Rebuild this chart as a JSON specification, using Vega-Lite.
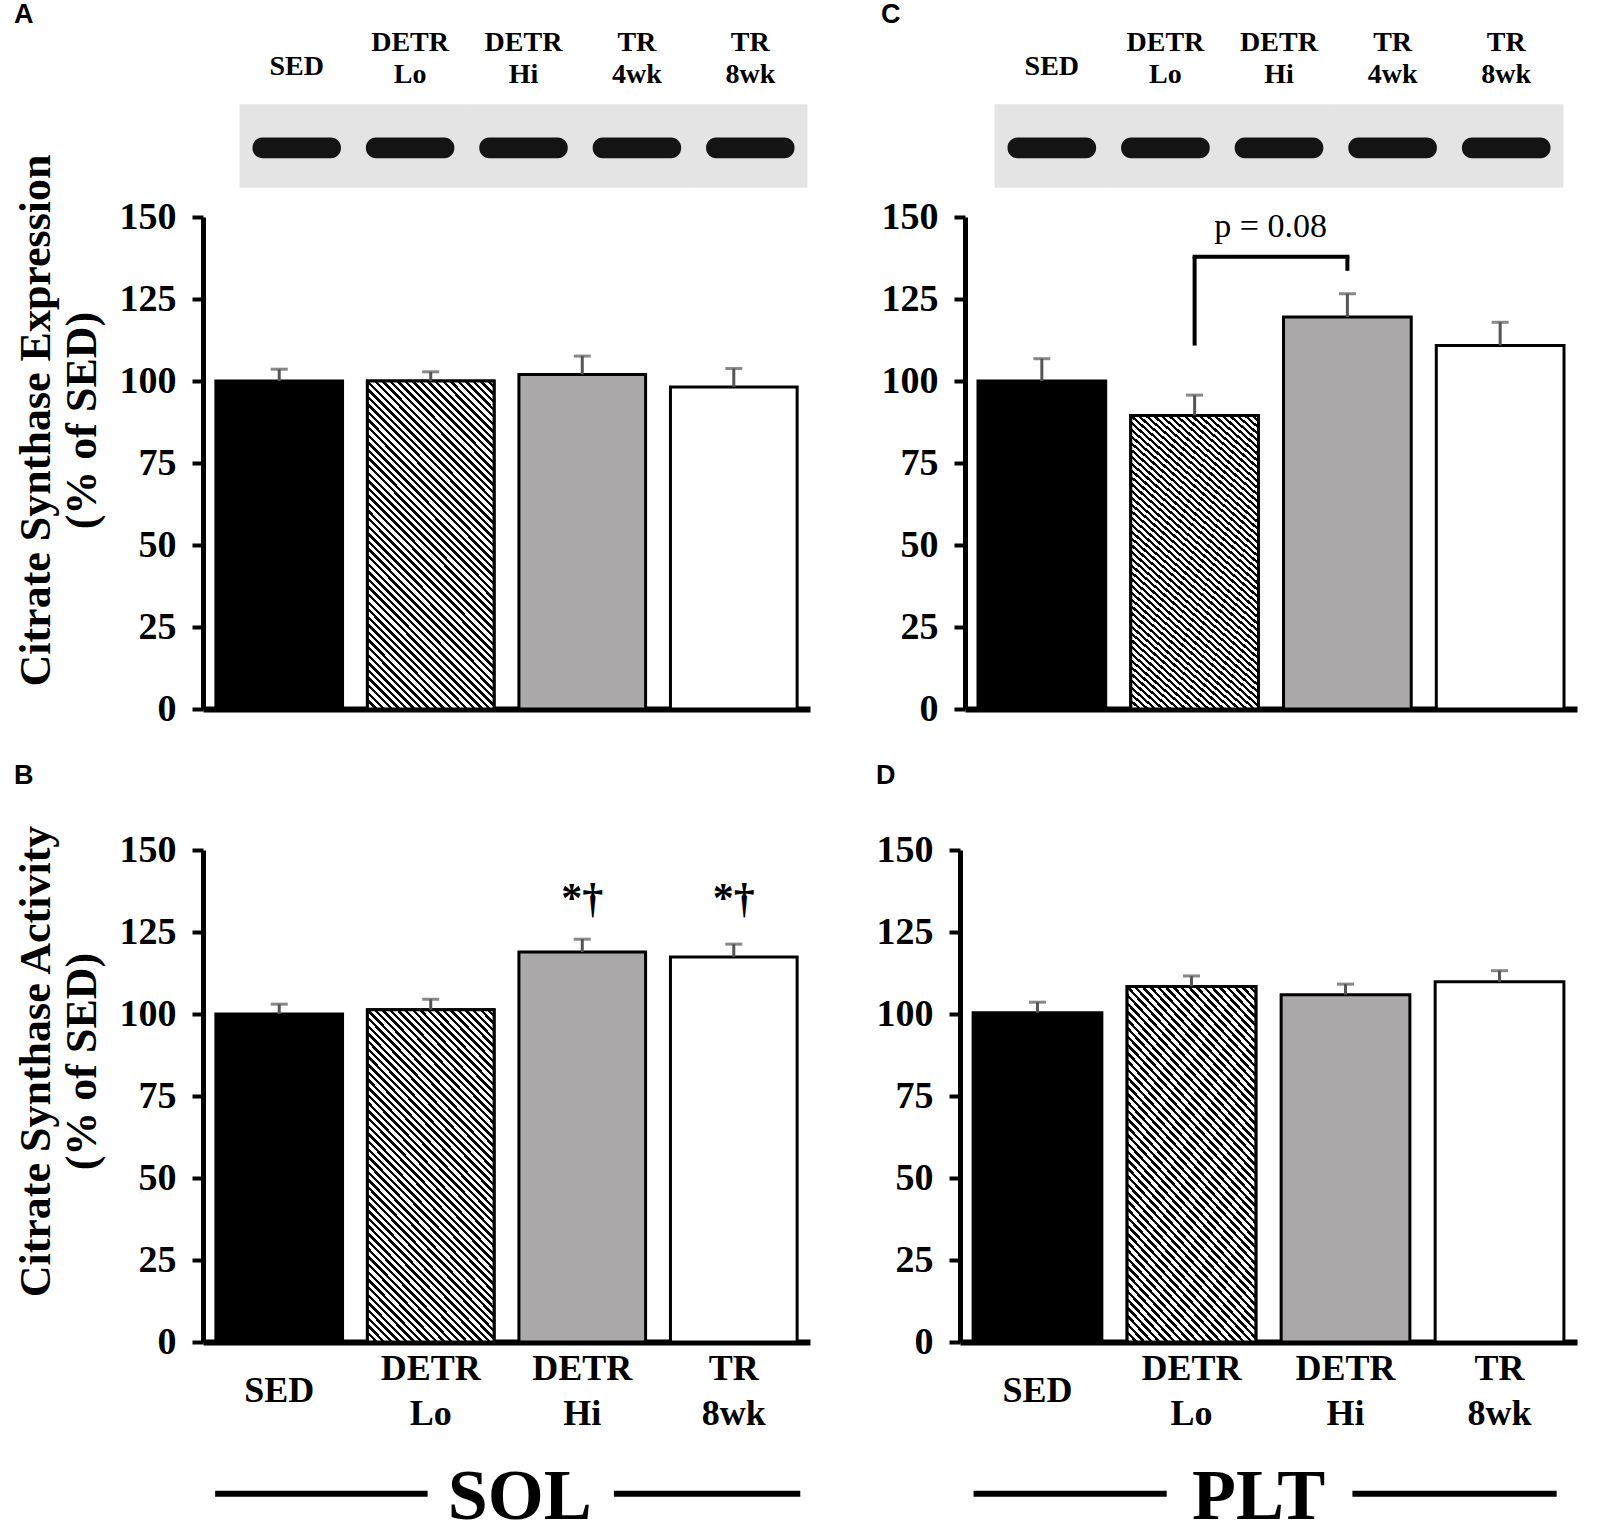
{
  "$schema": "https://vega.github.io/schema/vega-lite/v6.json",
  "background": "white",
  "padding": {"left": 13, "top": 1, "right": 5, "bottom": 5},
  "params": [
    {
      "name": "hatch",
      "value": {
        "gradient": "linear", "x1": 0, "y1": 1, "x2": 0.468, "y2": -0.206,
        "stops": [
          {"offset":0,"color":"#000"},{"offset":0.0075,"color":"#000"},{"offset":0.0075,"color":"#fff"},{"offset":0.0167,"color":"#fff"},
          {"offset":0.0167,"color":"#000"},{"offset":0.0242,"color":"#000"},{"offset":0.0242,"color":"#fff"},{"offset":0.0333,"color":"#fff"},
          {"offset":0.0333,"color":"#000"},{"offset":0.0408,"color":"#000"},{"offset":0.0408,"color":"#fff"},{"offset":0.05,"color":"#fff"},
          {"offset":0.05,"color":"#000"},{"offset":0.0575,"color":"#000"},{"offset":0.0575,"color":"#fff"},{"offset":0.0667,"color":"#fff"},
          {"offset":0.0667,"color":"#000"},{"offset":0.0742,"color":"#000"},{"offset":0.0742,"color":"#fff"},{"offset":0.0833,"color":"#fff"},
          {"offset":0.0833,"color":"#000"},{"offset":0.0908,"color":"#000"},{"offset":0.0908,"color":"#fff"},{"offset":0.1,"color":"#fff"},
          {"offset":0.1,"color":"#000"},{"offset":0.1075,"color":"#000"},{"offset":0.1075,"color":"#fff"},{"offset":0.1167,"color":"#fff"},
          {"offset":0.1167,"color":"#000"},{"offset":0.1242,"color":"#000"},{"offset":0.1242,"color":"#fff"},{"offset":0.1333,"color":"#fff"},
          {"offset":0.1333,"color":"#000"},{"offset":0.1408,"color":"#000"},{"offset":0.1408,"color":"#fff"},{"offset":0.15,"color":"#fff"},
          {"offset":0.15,"color":"#000"},{"offset":0.1575,"color":"#000"},{"offset":0.1575,"color":"#fff"},{"offset":0.1667,"color":"#fff"},
          {"offset":0.1667,"color":"#000"},{"offset":0.1742,"color":"#000"},{"offset":0.1742,"color":"#fff"},{"offset":0.1833,"color":"#fff"},
          {"offset":0.1833,"color":"#000"},{"offset":0.1908,"color":"#000"},{"offset":0.1908,"color":"#fff"},{"offset":0.2,"color":"#fff"},
          {"offset":0.2,"color":"#000"},{"offset":0.2075,"color":"#000"},{"offset":0.2075,"color":"#fff"},{"offset":0.2167,"color":"#fff"},
          {"offset":0.2167,"color":"#000"},{"offset":0.2242,"color":"#000"},{"offset":0.2242,"color":"#fff"},{"offset":0.2333,"color":"#fff"},
          {"offset":0.2333,"color":"#000"},{"offset":0.2408,"color":"#000"},{"offset":0.2408,"color":"#fff"},{"offset":0.25,"color":"#fff"},
          {"offset":0.25,"color":"#000"},{"offset":0.2575,"color":"#000"},{"offset":0.2575,"color":"#fff"},{"offset":0.2667,"color":"#fff"},
          {"offset":0.2667,"color":"#000"},{"offset":0.2742,"color":"#000"},{"offset":0.2742,"color":"#fff"},{"offset":0.2833,"color":"#fff"},
          {"offset":0.2833,"color":"#000"},{"offset":0.2908,"color":"#000"},{"offset":0.2908,"color":"#fff"},{"offset":0.3,"color":"#fff"},
          {"offset":0.3,"color":"#000"},{"offset":0.3075,"color":"#000"},{"offset":0.3075,"color":"#fff"},{"offset":0.3167,"color":"#fff"},
          {"offset":0.3167,"color":"#000"},{"offset":0.3242,"color":"#000"},{"offset":0.3242,"color":"#fff"},{"offset":0.3333,"color":"#fff"},
          {"offset":0.3333,"color":"#000"},{"offset":0.3408,"color":"#000"},{"offset":0.3408,"color":"#fff"},{"offset":0.35,"color":"#fff"},
          {"offset":0.35,"color":"#000"},{"offset":0.3575,"color":"#000"},{"offset":0.3575,"color":"#fff"},{"offset":0.3667,"color":"#fff"},
          {"offset":0.3667,"color":"#000"},{"offset":0.3742,"color":"#000"},{"offset":0.3742,"color":"#fff"},{"offset":0.3833,"color":"#fff"},
          {"offset":0.3833,"color":"#000"},{"offset":0.3908,"color":"#000"},{"offset":0.3908,"color":"#fff"},{"offset":0.4,"color":"#fff"},
          {"offset":0.4,"color":"#000"},{"offset":0.4075,"color":"#000"},{"offset":0.4075,"color":"#fff"},{"offset":0.4167,"color":"#fff"},
          {"offset":0.4167,"color":"#000"},{"offset":0.4242,"color":"#000"},{"offset":0.4242,"color":"#fff"},{"offset":0.4333,"color":"#fff"},
          {"offset":0.4333,"color":"#000"},{"offset":0.4408,"color":"#000"},{"offset":0.4408,"color":"#fff"},{"offset":0.45,"color":"#fff"},
          {"offset":0.45,"color":"#000"},{"offset":0.4575,"color":"#000"},{"offset":0.4575,"color":"#fff"},{"offset":0.4667,"color":"#fff"},
          {"offset":0.4667,"color":"#000"},{"offset":0.4742,"color":"#000"},{"offset":0.4742,"color":"#fff"},{"offset":0.4833,"color":"#fff"},
          {"offset":0.4833,"color":"#000"},{"offset":0.4908,"color":"#000"},{"offset":0.4908,"color":"#fff"},{"offset":0.5,"color":"#fff"},
          {"offset":0.5,"color":"#000"},{"offset":0.5075,"color":"#000"},{"offset":0.5075,"color":"#fff"},{"offset":0.5167,"color":"#fff"},
          {"offset":0.5167,"color":"#000"},{"offset":0.5242,"color":"#000"},{"offset":0.5242,"color":"#fff"},{"offset":0.5333,"color":"#fff"},
          {"offset":0.5333,"color":"#000"},{"offset":0.5408,"color":"#000"},{"offset":0.5408,"color":"#fff"},{"offset":0.55,"color":"#fff"},
          {"offset":0.55,"color":"#000"},{"offset":0.5575,"color":"#000"},{"offset":0.5575,"color":"#fff"},{"offset":0.5667,"color":"#fff"},
          {"offset":0.5667,"color":"#000"},{"offset":0.5742,"color":"#000"},{"offset":0.5742,"color":"#fff"},{"offset":0.5833,"color":"#fff"},
          {"offset":0.5833,"color":"#000"},{"offset":0.5908,"color":"#000"},{"offset":0.5908,"color":"#fff"},{"offset":0.6,"color":"#fff"},
          {"offset":0.6,"color":"#000"},{"offset":0.6075,"color":"#000"},{"offset":0.6075,"color":"#fff"},{"offset":0.6167,"color":"#fff"},
          {"offset":0.6167,"color":"#000"},{"offset":0.6242,"color":"#000"},{"offset":0.6242,"color":"#fff"},{"offset":0.6333,"color":"#fff"},
          {"offset":0.6333,"color":"#000"},{"offset":0.6408,"color":"#000"},{"offset":0.6408,"color":"#fff"},{"offset":0.65,"color":"#fff"},
          {"offset":0.65,"color":"#000"},{"offset":0.6575,"color":"#000"},{"offset":0.6575,"color":"#fff"},{"offset":0.6667,"color":"#fff"},
          {"offset":0.6667,"color":"#000"},{"offset":0.6742,"color":"#000"},{"offset":0.6742,"color":"#fff"},{"offset":0.6833,"color":"#fff"},
          {"offset":0.6833,"color":"#000"},{"offset":0.6908,"color":"#000"},{"offset":0.6908,"color":"#fff"},{"offset":0.7,"color":"#fff"},
          {"offset":0.7,"color":"#000"},{"offset":0.7075,"color":"#000"},{"offset":0.7075,"color":"#fff"},{"offset":0.7167,"color":"#fff"},
          {"offset":0.7167,"color":"#000"},{"offset":0.7242,"color":"#000"},{"offset":0.7242,"color":"#fff"},{"offset":0.7333,"color":"#fff"},
          {"offset":0.7333,"color":"#000"},{"offset":0.7408,"color":"#000"},{"offset":0.7408,"color":"#fff"},{"offset":0.75,"color":"#fff"},
          {"offset":0.75,"color":"#000"},{"offset":0.7575,"color":"#000"},{"offset":0.7575,"color":"#fff"},{"offset":0.7667,"color":"#fff"},
          {"offset":0.7667,"color":"#000"},{"offset":0.7742,"color":"#000"},{"offset":0.7742,"color":"#fff"},{"offset":0.7833,"color":"#fff"},
          {"offset":0.7833,"color":"#000"},{"offset":0.7908,"color":"#000"},{"offset":0.7908,"color":"#fff"},{"offset":0.8,"color":"#fff"},
          {"offset":0.8,"color":"#000"},{"offset":0.8075,"color":"#000"},{"offset":0.8075,"color":"#fff"},{"offset":0.8167,"color":"#fff"},
          {"offset":0.8167,"color":"#000"},{"offset":0.8242,"color":"#000"},{"offset":0.8242,"color":"#fff"},{"offset":0.8333,"color":"#fff"},
          {"offset":0.8333,"color":"#000"},{"offset":0.8408,"color":"#000"},{"offset":0.8408,"color":"#fff"},{"offset":0.85,"color":"#fff"},
          {"offset":0.85,"color":"#000"},{"offset":0.8575,"color":"#000"},{"offset":0.8575,"color":"#fff"},{"offset":0.8667,"color":"#fff"},
          {"offset":0.8667,"color":"#000"},{"offset":0.8742,"color":"#000"},{"offset":0.8742,"color":"#fff"},{"offset":0.8833,"color":"#fff"},
          {"offset":0.8833,"color":"#000"},{"offset":0.8908,"color":"#000"},{"offset":0.8908,"color":"#fff"},{"offset":0.9,"color":"#fff"},
          {"offset":0.9,"color":"#000"},{"offset":0.9075,"color":"#000"},{"offset":0.9075,"color":"#fff"},{"offset":0.9167,"color":"#fff"},
          {"offset":0.9167,"color":"#000"},{"offset":0.9242,"color":"#000"},{"offset":0.9242,"color":"#fff"},{"offset":0.9333,"color":"#fff"},
          {"offset":0.9333,"color":"#000"},{"offset":0.9408,"color":"#000"},{"offset":0.9408,"color":"#fff"},{"offset":0.95,"color":"#fff"},
          {"offset":0.95,"color":"#000"},{"offset":0.9575,"color":"#000"},{"offset":0.9575,"color":"#fff"},{"offset":0.9667,"color":"#fff"},
          {"offset":0.9667,"color":"#000"},{"offset":0.9742,"color":"#000"},{"offset":0.9742,"color":"#fff"},{"offset":0.9833,"color":"#fff"},
          {"offset":0.9833,"color":"#000"},{"offset":0.9908,"color":"#000"},{"offset":0.9908,"color":"#fff"},{"offset":1,"color":"#fff"}
        ]
      }
    }
  ],
  "datasets": {
    "lanes": [
      {"lane": "SED"}, {"lane": "DETR Lo"}, {"lane": "DETR Hi"}, {"lane": "TR 4wk"}, {"lane": "TR 8wk"}
    ],
    "expr_sol": [
      {"group": "SED", "mean": 100, "upper": 103.6},
      {"group": "DETR Lo", "mean": 100, "upper": 102.8},
      {"group": "DETR Hi", "mean": 102, "upper": 107.6},
      {"group": "TR 8wk", "mean": 98.2, "upper": 103.8}
    ],
    "expr_plt": [
      {"group": "SED", "mean": 100, "upper": 106.8},
      {"group": "DETR Lo", "mean": 89.5, "upper": 95.7},
      {"group": "DETR Hi", "mean": 119.5, "upper": 126.6},
      {"group": "TR 8wk", "mean": 110.8, "upper": 117.9}
    ],
    "act_sol": [
      {"group": "SED", "mean": 100, "upper": 103, "sig": ""},
      {"group": "DETR Lo", "mean": 101.3, "upper": 104.5, "sig": ""},
      {"group": "DETR Hi", "mean": 118.9, "upper": 122.8, "sig": "*†"},
      {"group": "TR 8wk", "mean": 117.4, "upper": 121.3, "sig": "*†"}
    ],
    "act_plt": [
      {"group": "SED", "mean": 100.4, "upper": 103.6},
      {"group": "DETR Lo", "mean": 108.4, "upper": 111.6},
      {"group": "DETR Hi", "mean": 105.9, "upper": 109.1},
      {"group": "TR 8wk", "mean": 109.8, "upper": 113.2}
    ],
    "bracket": [
      {"from": "DETR Lo", "to": "DETR Hi", "label": "p = 0.08"}
    ]
  },
  "spacing": 33,
  "vconcat": [
    {
      "spacing": 71,
      "hconcat": [
        {
          "width": 607, "height": 492,
          "title": {"text": "A", "offset": 0},
          "resolve": {"scale": {"x": "independent"}},
          "layer": [
            {
              "data": {"name": "expr_sol"},
              "encoding": {
                "x": {"field": "group", "type": "nominal", "title": null,
                      "scale": {"domain": ["SED", "DETR Lo", "DETR Hi", "TR 8wk"], "paddingInner": 0.164, "paddingOuter": 0.085},
                      "axis": {"labels": false}},
                "y": {"field": "mean", "type": "quantitative",
                      "scale": {"domain": [0, 150], "nice": false},
                      "axis": {"values": [0, 25, 50, 75, 100, 125, 150], "title": ["Citrate Synthase Expression", "(% of SED)"], "titleY": 203, "titleFontWeight": "bold"}}
              },
              "layer": [
                {"mark": {"type": "bar", "stroke": "#000", "strokeWidth": 3},
                 "encoding": {"fill": {"field": "group", "type": "nominal", "legend": null,
                   "scale": {"domain": ["SED", "DETR Lo", "DETR Hi", "TR 8wk"], "range": ["#000", "#fff", "#aaa8a8", "#fff"]}}}},
                {"transform": [{"filter": "datum.group === 'DETR Lo'"}],
                 "mark": {"type": "bar", "fill": {"expr": "hatch"}, "stroke": "#000", "strokeWidth": 3}},
                {"mark": {"type": "rule", "stroke": "#555", "strokeWidth": 3}, "encoding": {"y2": {"field": "upper"}}},
                {"mark": {"type": "tick", "color": "#555", "thickness": 3, "size": 17},
                 "encoding": {"y": {"field": "upper", "type": "quantitative"}}}
              ]
            },
            {
              "data": {"name": "lanes"},
              "encoding": {"x": {"field": "lane", "type": "nominal", "sort": null, "axis": null,
                                 "scale": {"paddingInner": 0, "paddingOuter": 0, "range": [37, 604]}}},
              "layer": [
                {"mark": {"type": "bar", "fill": "#e4e4e4", "stroke": "#e4e4e4", "strokeWidth": 1},
                 "encoding": {"y": {"datum": 159.1, "type": "quantitative"}, "y2": {"datum": 184.2}}},
                {"mark": {"type": "bar", "fill": "#141414", "cornerRadius": 10, "width": {"band": 0.78}},
                 "encoding": {"y": {"datum": 167.9, "type": "quantitative"}, "y2": {"datum": 174.2}}},
                {"transform": [{"filter": "indexof(datum.lane, ' ') > 0"}],
                 "mark": {"type": "text", "lineBreak": " ", "fontSize": 28, "fontWeight": "bold", "lineHeight": 32},
                 "encoding": {"y": {"datum": 202.9, "type": "quantitative"}, "text": {"field": "lane"}}},
                {"transform": [{"filter": "indexof(datum.lane, ' ') < 0"}],
                 "mark": {"type": "text", "fontSize": 28, "fontWeight": "bold"},
                 "encoding": {"y": {"datum": 195.8, "type": "quantitative"}, "text": {"field": "lane"}}}
              ]
            }
          ]
        },
        {
          "width": 612, "height": 492,
          "title": {"text": "C", "offset": 0},
          "resolve": {"scale": {"x": "independent"}},
          "layer": [
            {
              "data": {"name": "expr_plt"},
              "encoding": {
                "x": {"field": "group", "type": "nominal", "title": null,
                      "scale": {"domain": ["SED", "DETR Lo", "DETR Hi", "TR 8wk"], "paddingInner": 0.164, "paddingOuter": 0.085},
                      "axis": {"labels": false}},
                "y": {"field": "mean", "type": "quantitative",
                      "scale": {"domain": [0, 150], "nice": false},
                      "axis": {"values": [0, 25, 50, 75, 100, 125, 150], "title": null}}
              },
              "layer": [
                {"mark": {"type": "bar", "stroke": "#000", "strokeWidth": 3},
                 "encoding": {"fill": {"field": "group", "type": "nominal", "legend": null,
                   "scale": {"domain": ["SED", "DETR Lo", "DETR Hi", "TR 8wk"], "range": ["#000", "#fff", "#aaa8a8", "#fff"]}}}},
                {"transform": [{"filter": "datum.group === 'DETR Lo'"}],
                 "mark": {"type": "bar", "fill": {"expr": "hatch"}, "stroke": "#000", "strokeWidth": 3}},
                {"mark": {"type": "rule", "stroke": "#555", "strokeWidth": 3}, "encoding": {"y2": {"field": "upper"}}},
                {"mark": {"type": "tick", "color": "#555", "thickness": 3, "size": 17},
                 "encoding": {"y": {"field": "upper", "type": "quantitative"}}}
              ]
            },
            {
              "data": {"name": "bracket"},
              "layer": [
                {"mark": {"type": "rule", "stroke": "#000", "strokeWidth": 4},
                 "encoding": {"x": {"field": "from", "type": "nominal", "axis": null,
                                    "scale": {"domain": ["SED", "DETR Lo", "DETR Hi", "TR 8wk"], "paddingInner": 0.164, "paddingOuter": 0.085}},
                              "y": {"datum": 110.8, "type": "quantitative"}, "y2": {"datum": 137.9}}},
                {"mark": {"type": "rule", "stroke": "#000", "strokeWidth": 4, "strokeCap": "square"},
                 "encoding": {"x": {"field": "from", "type": "nominal", "axis": null}, "x2": {"field": "to"}, "y": {"datum": 137.9, "type": "quantitative"}}},
                {"mark": {"type": "rule", "stroke": "#000", "strokeWidth": 4},
                 "encoding": {"x": {"field": "to", "type": "nominal", "axis": null}, "y": {"datum": 133.6, "type": "quantitative"}, "y2": {"datum": 137.9}}},
                {"mark": {"type": "text", "fontSize": 34, "dx": 76},
                 "encoding": {"x": {"field": "from", "type": "nominal", "axis": null}, "y": {"datum": 147, "type": "quantitative"}, "text": {"field": "label"}}}
              ]
            },
            {
              "data": {"name": "lanes"},
              "encoding": {"x": {"field": "lane", "type": "nominal", "sort": null, "axis": null,
                                 "scale": {"paddingInner": 0, "paddingOuter": 0, "range": [30, 598]}}},
              "layer": [
                {"mark": {"type": "bar", "fill": "#e4e4e4", "stroke": "#e4e4e4", "strokeWidth": 1},
                 "encoding": {"y": {"datum": 159.1, "type": "quantitative"}, "y2": {"datum": 184.2}}},
                {"mark": {"type": "bar", "fill": "#141414", "cornerRadius": 10, "width": {"band": 0.78}},
                 "encoding": {"y": {"datum": 167.9, "type": "quantitative"}, "y2": {"datum": 174.2}}},
                {"transform": [{"filter": "indexof(datum.lane, ' ') > 0"}],
                 "mark": {"type": "text", "lineBreak": " ", "fontSize": 28, "fontWeight": "bold", "lineHeight": 32},
                 "encoding": {"y": {"datum": 202.9, "type": "quantitative"}, "text": {"field": "lane"}}},
                {"transform": [{"filter": "indexof(datum.lane, ' ') < 0"}],
                 "mark": {"type": "text", "fontSize": 28, "fontWeight": "bold"},
                 "encoding": {"y": {"datum": 195.8, "type": "quantitative"}, "text": {"field": "lane"}}}
              ]
            }
          ]
        }
      ]
    },
    {
      "spacing": 66,
      "hconcat": [
        {
          "width": 607, "height": 492,
          "title": {"text": "B", "offset": 34},
          "resolve": {"scale": {"x": "independent"}},
          "layer": [
            {
              "data": {"name": "act_sol"},
              "encoding": {
                "x": {"field": "group", "type": "nominal", "title": null,
                      "scale": {"domain": ["SED", "DETR Lo", "DETR Hi", "TR 8wk"], "paddingInner": 0.164, "paddingOuter": 0.085},
                      "axis": {"labelExpr": "split(datum.label, ' ')", "labelFontSize": 36, "labelBaseline": "middle", "labelLineHeight": 45,
                               "labelPadding": {"condition": {"test": "datum.label === 'SED'", "value": 48}, "value": 26}, "labelAngle": 0}},
                "y": {"field": "mean", "type": "quantitative",
                      "scale": {"domain": [0, 150], "nice": false},
                      "axis": {"values": [0, 25, 50, 75, 100, 125, 150], "title": ["Citrate Synthase Activity", "(% of SED)"], "titleY": 211, "titleFontWeight": "bold"}}
              },
              "layer": [
                {"mark": {"type": "bar", "stroke": "#000", "strokeWidth": 3},
                 "encoding": {"fill": {"field": "group", "type": "nominal", "legend": null,
                   "scale": {"domain": ["SED", "DETR Lo", "DETR Hi", "TR 8wk"], "range": ["#000", "#fff", "#aaa8a8", "#fff"]}}}},
                {"transform": [{"filter": "datum.group === 'DETR Lo'"}],
                 "mark": {"type": "bar", "fill": {"expr": "hatch"}, "stroke": "#000", "strokeWidth": 3}},
                {"mark": {"type": "rule", "stroke": "#555", "strokeWidth": 3}, "encoding": {"y2": {"field": "upper"}}},
                {"mark": {"type": "tick", "color": "#555", "thickness": 3, "size": 17},
                 "encoding": {"y": {"field": "upper", "type": "quantitative"}}},
                {"mark": {"type": "text", "fontSize": 42, "fontWeight": "bold"},
                 "encoding": {"y": {"datum": 135, "type": "quantitative"}, "text": {"field": "sig"}}}
              ]
            },
            {
              "data": {"values": [{"muscle": "SOL"}]},
              "layer": [
                {"mark": {"type": "rule", "stroke": "#000", "strokeWidth": 6},
                 "encoding": {"x": {"datum": 0.02, "type": "quantitative", "scale": {"domain": [0, 1]}, "axis": null}, "x2": {"datum": 0.37}, "y": {"datum": -46.3, "type": "quantitative"}}},
                {"mark": {"type": "rule", "stroke": "#000", "strokeWidth": 6},
                 "encoding": {"x": {"datum": 0.677, "type": "quantitative", "axis": null}, "x2": {"datum": 0.984}, "y": {"datum": -46.3, "type": "quantitative"}}},
                {"mark": {"type": "text", "fontSize": 72, "fontWeight": "bold"},
                 "encoding": {"x": {"datum": 0.522, "type": "quantitative", "axis": null}, "y": {"datum": -47.3, "type": "quantitative"}, "text": {"field": "muscle"}}}
              ]
            }
          ]
        },
        {
          "width": 617, "height": 492,
          "title": {"text": "D", "offset": 41},
          "resolve": {"scale": {"x": "independent"}},
          "layer": [
            {
              "data": {"name": "act_plt"},
              "encoding": {
                "x": {"field": "group", "type": "nominal", "title": null,
                      "scale": {"domain": ["SED", "DETR Lo", "DETR Hi", "TR 8wk"], "paddingInner": 0.164, "paddingOuter": 0.085},
                      "axis": {"labelExpr": "split(datum.label, ' ')", "labelFontSize": 36, "labelBaseline": "middle", "labelLineHeight": 45,
                               "labelPadding": {"condition": {"test": "datum.label === 'SED'", "value": 48}, "value": 26}, "labelAngle": 0}},
                "y": {"field": "mean", "type": "quantitative",
                      "scale": {"domain": [0, 150], "nice": false},
                      "axis": {"values": [0, 25, 50, 75, 100, 125, 150], "title": null}}
              },
              "layer": [
                {"mark": {"type": "bar", "stroke": "#000", "strokeWidth": 3},
                 "encoding": {"fill": {"field": "group", "type": "nominal", "legend": null,
                   "scale": {"domain": ["SED", "DETR Lo", "DETR Hi", "TR 8wk"], "range": ["#000", "#fff", "#aaa8a8", "#fff"]}}}},
                {"transform": [{"filter": "datum.group === 'DETR Lo'"}],
                 "mark": {"type": "bar", "fill": {"expr": "hatch"}, "stroke": "#000", "strokeWidth": 3}},
                {"mark": {"type": "rule", "stroke": "#555", "strokeWidth": 3}, "encoding": {"y2": {"field": "upper"}}},
                {"mark": {"type": "tick", "color": "#555", "thickness": 3, "size": 17},
                 "encoding": {"y": {"field": "upper", "type": "quantitative"}}}
              ]
            },
            {
              "data": {"values": [{"muscle": "PLT"}]},
              "layer": [
                {"mark": {"type": "rule", "stroke": "#000", "strokeWidth": 6},
                 "encoding": {"x": {"datum": 0.022, "type": "quantitative", "scale": {"domain": [0, 1]}, "axis": null}, "x2": {"datum": 0.335}, "y": {"datum": -46.3, "type": "quantitative"}}},
                {"mark": {"type": "rule", "stroke": "#000", "strokeWidth": 6},
                 "encoding": {"x": {"datum": 0.636, "type": "quantitative", "axis": null}, "x2": {"datum": 0.967}, "y": {"datum": -46.3, "type": "quantitative"}}},
                {"mark": {"type": "text", "fontSize": 72, "fontWeight": "bold"},
                 "encoding": {"x": {"datum": 0.484, "type": "quantitative", "axis": null}, "y": {"datum": -47.3, "type": "quantitative"}, "text": {"field": "muscle"}}}
              ]
            }
          ]
        }
      ]
    }
  ],
  "config": {
    "view": {"stroke": null},
    "font": "Liberation Serif",
    "axis": {
      "grid": false, "domainColor": "#000", "tickColor": "#000", "labelColor": "#000", "titleColor": "#000",
      "labelFont": "Liberation Serif", "titleFont": "Liberation Serif", "labelFontWeight": "bold", "titleFontWeight": "bold",
      "labelFlush": false, "labelOverlap": false, "labelBound": false
    },
    "axisY": {"labelFontSize": 38, "labelPadding": 16, "tickSize": 11, "tickWidth": 4, "domainWidth": 5,
              "titleFontSize": 44, "titleLineHeight": 46, "titlePadding": 15, "titleFontWeight": "bold"},
    "axisX": {"domainWidth": 6, "ticks": false, "tickSize": 0},
    "title": {"font": "Liberation Sans Narrow, Liberation Sans", "fontSize": 27, "fontWeight": "bold",
              "anchor": "start", "frame": "bounds", "color": "#000"},
    "text": {"color": "#000", "font": "Liberation Serif"}
  }
}
